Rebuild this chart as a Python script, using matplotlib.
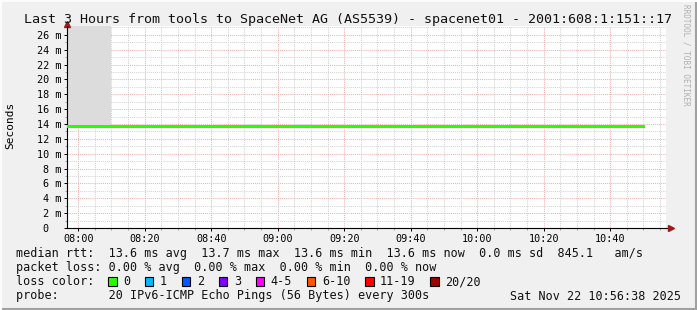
import matplotlib
matplotlib.use("Agg")
import matplotlib.pyplot as plt
from matplotlib.patches import Rectangle
from matplotlib.ticker import MultipleLocator, FixedLocator

# chart text
title = "Last 3 Hours from tools to SpaceNet AG (AS5539) - spacenet01 - 2001:608:1:151::17"
legend_lines = [
    "median rtt:  13.6 ms avg  13.7 ms max  13.6 ms min  13.6 ms now  0.0 ms sd  845.1   am/s",
    "packet loss: 0.00 % avg  0.00 % max  0.00 % min  0.00 % now",
    "loss color:",
    "probe:       20 IPv6-ICMP Echo Pings (56 Bytes) every 300s",
]
stamp = "Sat Nov 22 10:56:38 2025"
loss_labels = ["0", "1", "2", "3", "4-5", "6-10", "11-19", "20/20"]
loss_colors = ["#26ff00", "#00b8ff", "#0059ff", "#7e00ff", "#ff00ff", "#ff5500", "#ff0000", "#a10000"]

# x in minutes after 08:00, one sample every 300 s
start_min = -3.367   # 07:56:38
end_min = 176.633    # 10:56:38
times = list(range(-5, 171, 5))
median_ms = [13.72, 13.72, 13.72, 13.72, 13.71, 13.72, 13.72, 13.70, 13.71, 13.72,
             13.72, 13.73, 13.72, 13.72, 13.73, 13.72, 13.72, 13.72, 13.73, 13.72,
             13.72, 13.72, 13.71, 13.72, 13.72, 13.72, 13.73, 13.72, 13.72, 13.72,
             13.72, 13.72, 13.72, 13.72, 13.72, 13.72]
smoke_lo = [13.72, 13.72, 13.72, 13.72, 13.70, 13.70, 13.50, 13.70, 13.70, 13.70,
            13.70, 13.70, 13.70, 13.70, 13.70, 13.70, 13.70, 13.70, 13.70, 13.70,
            13.52, 13.70, 13.70, 13.70, 13.70, 13.70, 13.70, 13.70, 13.70, 13.70,
            13.70, 13.70, 13.70, 13.70, 13.70, 13.70]
smoke_hi = [13.72, 30.0, 30.0, 30.0, 13.74, 13.74, 13.74, 13.74, 13.74, 13.74,
            13.74, 13.74, 13.95, 13.74, 13.74, 13.95, 13.74, 13.74, 13.74, 13.74,
            13.74, 13.74, 13.74, 13.74, 13.74, 13.74, 13.74, 13.74, 13.74, 13.74,
            13.74, 13.74, 13.74, 13.74, 13.74, 13.74]
x_ticks = [0, 20, 40, 60, 80, 100, 120, 140, 160]
x_labels = ["08:00", "08:20", "08:40", "09:00", "09:20", "09:40", "10:00", "10:20", "10:40"]
y_ticks = [0, 2, 4, 6, 8, 10, 12, 14, 16, 18, 20, 22, 24, 26]

W, H = 697, 310
mono = "DejaVu Sans Mono"


def fx(x):
    return x / W


def fy(y):
    return 1 - y / H


fig = plt.figure(figsize=(W / 100, H / 100), dpi=100, facecolor="#f0f0f0")
ax = fig.add_axes([fx(67), fy(228), 598.5 / W, 202 / H])
ax.set_facecolor("white")

ax.set_xlim(start_min, end_min)
ax.set_ylim(0, 27.2)

# grids
ax.xaxis.set_major_locator(FixedLocator(x_ticks))
ax.xaxis.set_minor_locator(MultipleLocator(5))
ax.yaxis.set_major_locator(FixedLocator(y_ticks))
ax.yaxis.set_minor_locator(MultipleLocator(1))
ax.grid(which="minor", color="#d4d4d4", linestyle=(0, (1, 1)), linewidth=0.75)
ax.grid(which="major", color="#f4b0b0", linestyle=(0, (1, 1)), linewidth=0.75)
ax.set_axisbelow(True)

# smoke and median line
ax.fill_between(times, smoke_lo, smoke_hi, step="pre", color="#dcdcdc", linewidth=0, zorder=2)
ax.plot(times, median_ms, drawstyle="steps-pre", color="#26ff00", linewidth=2.2, zorder=3)

ax.set_xticks(x_ticks)
ax.set_xticklabels(x_labels, family=mono, fontsize=7.3)
ax.set_yticks(y_ticks)
ax.set_yticklabels(["0  "] + [f"{v} m" for v in y_ticks[1:]], family=mono, fontsize=7.3)
ax.tick_params(which="major", length=2.5, width=0.7, color="#000000", pad=1.5)
ax.tick_params(which="minor", length=1.5, width=0.6, color="#909090")

for s in ["top", "right"]:
    ax.spines[s].set_visible(False)
ax.spines["left"].set_linewidth(0.8)
ax.spines["bottom"].set_linewidth(0.8)
# axis extensions with arrows
ax.plot([1, 1 + 3 / 598.5], [0, 0], transform=ax.transAxes, color="black", lw=0.8, clip_on=False)
ax.plot([0, 0], [1, 1 + 2 / 202], transform=ax.transAxes, color="black", lw=0.8, clip_on=False)
ax.plot([1 + 5 / 598.5], [0], transform=ax.transAxes, marker=">", color="#9b1b1b", ms=3.8, clip_on=False)
ax.plot([0], [1 + 2.5 / 202], transform=ax.transAxes, marker="^", color="#9b1b1b", ms=3.8, clip_on=False)

# texts
fig.text(0.5, fy(19), title, family=mono, fontsize=9.6, ha="center", va="center", color="#111111")
fig.text(fx(10), fy(125), "Seconds", family=mono, fontsize=8, rotation=90, ha="center", va="center")
fig.text(fx(686), fy(4), "RRDTOOL / TOBI OETIKER", family=mono, fontsize=5.5, rotation=270,
         ha="center", va="top", color="#b0b0b0")

rows = [253.5, 267.7, 281.7, 296]
for line, yy in zip(legend_lines, rows):
    fig.text(fx(16), fy(yy), line, family=mono, fontsize=8.5, ha="left", va="center", color="#111111")
fig.text(fx(681), fy(296), stamp, family=mono, fontsize=8.5, ha="right", va="center", color="#111111")

# loss colour boxes
bx = 108.0
cw = 7.11
for lab, col in zip(loss_labels, loss_colors):
    fig.patches.append(Rectangle((fx(bx), fy(285.5)), 8.5 / W, 8.5 / H, transform=fig.transFigure,
                                 facecolor=col, edgecolor="black", linewidth=0.8))
    fig.text(fx(bx + 15), fy(281.7), lab, family=mono, fontsize=8.5, ha="left", va="center", color="#111111")
    bx = bx + 15 + len(lab) * cw + 14.8

# frame shading
fig.add_artist(plt.Line2D([0, 1], [fy(308.5)] * 2, transform=fig.transFigure, color="#a0a0a0", lw=1.5))
fig.add_artist(plt.Line2D([fx(696)] * 2, [0, 1], transform=fig.transFigure, color="#a0a0a0", lw=1.5))
fig.add_artist(plt.Line2D([0, 1], [fy(0.5)] * 2, transform=fig.transFigure, color="#fcfcfc", lw=1.5))
fig.add_artist(plt.Line2D([fx(0.5)] * 2, [0, 1], transform=fig.transFigure, color="#fcfcfc", lw=1.5))

fig.savefig("out.png", dpi=100, facecolor=fig.get_facecolor())
